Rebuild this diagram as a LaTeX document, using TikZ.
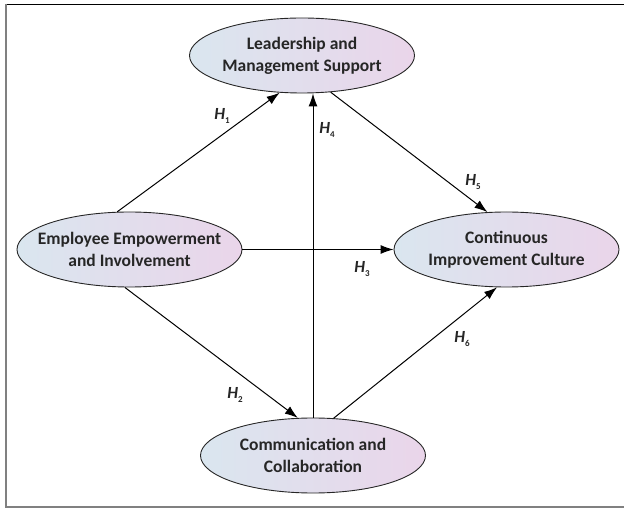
\documentclass[tikz,border=0pt]{standalone}
\usepackage{fontspec}
\setmainfont{Carlito}
\usetikzlibrary{shapes.geometric, arrows.meta}
\definecolor{shadeleft}{RGB}{218,230,239}
\definecolor{shaderight}{RGB}{234,213,234}
\newcommand{\hname}[1]{\textit{H}\raisebox{-4pt}{\fontsize{9}{9}\selectfont\upshape #1}}
\tikzset{
    construct/.style={ellipse, minimum width=225pt, minimum height=75pt, inner xsep=-16pt, inner ysep=0pt, align=center, draw=black!85, line width=0.9pt, left color=shadeleft, right color=shaderight, text=black!85, font=\fontsize{17.5}{22}\selectfont\bfseries},
    hyp/.style={text=black!85, font=\fontsize{17}{17}\selectfont\bfseries\itshape},
    arrow/.style={line width=1pt, -{Latex[length=13pt, width=9pt]}}
}

\begin{document}
\begin{tikzpicture}[x=1pt, y=-1pt]
    \useasboundingbox (0,0) rectangle (624,510);
    % frame
    \draw [black, line width=1.2pt] (5,4.5) -- (624,4.5);
    \draw [gray, line width=2pt] (5.5,4) -- (5.5,507);
    \draw [gray, line width=2.5pt] (5,507) -- (624,507);

    \node (lead) [construct] at (302,55.5) {Leadership and\\Management Support};
    \node (emp) [construct] at (129.5,249.5) {Employee Empowerment\\and Involvement};
    \node (cont) [construct] at (506.5,249.5) {Continuous\\Improvement Culture};
    \node (comm) [construct] at (313,455.5) {Communication and\\Collaboration};

    \draw [arrow] (emp.108) -- (lead.239);
    \draw [arrow] (emp.263) -- (comm.112);
    \draw [arrow] (emp.east) -- (cont.west);
    \draw [arrow] (comm.north) -- (comm.north |- lead.south);
    \draw [arrow] (lead.-52) -- (cont.117);
    \draw [arrow] (comm.61) -- (cont.256);

    \node (h1) [hyp] at (222,116) {\hname{1}};
    \node (h2) [hyp] at (235,395) {\hname{2}};
    \node (h3) [hyp] at (362,269) {\hname{3}};
    \node (h4) [hyp] at (327,130) {\hname{4}};
    \node (h5) [hyp] at (473,182) {\hname{5}};
    \node (h6) [hyp] at (462,339) {\hname{6}};
\end{tikzpicture}
\end{document}
